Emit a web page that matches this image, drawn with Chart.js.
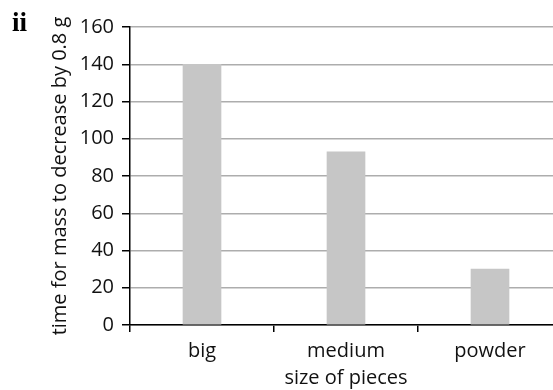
<!DOCTYPE html>
<html>
<head>
<meta charset="utf-8">
<script src="https://cdn.jsdelivr.net/npm/chart.js@4"></script>
<style>
  html, body { margin: 0; padding: 0; background: #fff; overflow: hidden; }
  #wrap { width: 570px; height: 390px; }
</style>
</head>
<body>
<div id="wrap"><canvas id="c" width="570" height="390"></canvas></div>
<script>
// Time taken for the mass to fall by 0.8 g, by size of pieces
const categories = ['big', 'medium', 'powder'];
const times = [140, 93, 30];
const yTicks = [0, 20, 40, 60, 80, 100, 120, 140, 160];

const FONT = '"Open Sans", "Noto Sans", sans-serif';

// Part label in the top-left corner
const partLabel = {
  id: 'partLabel',
  afterDraw(chart) {
    const ctx = chart.ctx;
    ctx.save();
    ctx.fillStyle = '#000';
    ctx.font = 'bold 27px "Liberation Serif", "DejaVu Serif", serif';
    ctx.textBaseline = 'alphabetic';
    ctx.textAlign = 'left';
    ctx.fillText('ii', 12, 31);
    ctx.restore();
  }
};

new Chart(document.getElementById('c'), {
  type: 'bar',
  data: {
    labels: categories,
    datasets: [{
      data: times,
      backgroundColor: '#c6c6c6',
      borderWidth: 0,
      barThickness: 38
    }]
  },
  options: {
    responsive: false,
    animation: false,
    layout: { padding: { top: 27, right: 8, bottom: 0, left: 40 } },
    plugins: { legend: { display: false }, tooltip: { enabled: false } },
    scales: {
      x: {
        offset: true,
        afterFit(scale) { scale.height = 65; },
        grid: {
          offset: true,
          drawOnChartArea: false,
          drawTicks: true,
          tickLength: 7,
          color: '#000',
          tickColor: '#000',
          lineWidth: 1.5
        },
        border: { display: true, color: '#000', width: 1.5 },
        ticks: { color: '#111', font: { family: FONT, size: 20 }, padding: 7 },
        title: {
          display: true,
          text: 'size of pieces',
          color: '#111',
          font: { family: FONT, size: 20 },
          padding: { top: 3, bottom: 0 }
        }
      },
      y: {
        min: 0,
        max: 160,
        afterBuildTicks(scale) { scale.ticks = yTicks.map(v => ({ value: v })); },
        afterFit(scale) { scale.width = 90; },
        grid: {
          color: '#adadad',
          tickColor: '#000',
          lineWidth: 1.5,
          tickLength: 8
        },
        border: { display: true, color: '#000', width: 1.5 },
        ticks: { color: '#111', font: { family: FONT, size: 20 }, padding: 8 },
        title: {
          display: true,
          text: 'time for mass to decrease by 0.8 g',
          color: '#111',
          font: { family: FONT, size: 20 },
          padding: { top: 8, bottom: 0 }
        }
      }
    }
  },
  plugins: [partLabel]
});
</script>
</body>
</html>
